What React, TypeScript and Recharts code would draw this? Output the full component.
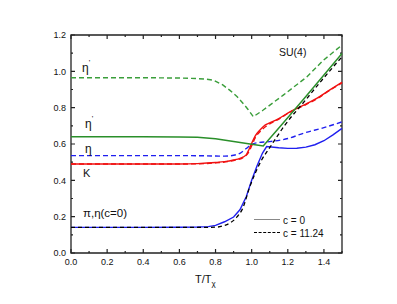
import React from "react"
import { LineChart, Line, XAxis, YAxis, ReferenceArea } from "recharts"

type Pt = { x: number; y: number }

const xTicks = [0, 0.1, 0.2, 0.3, 0.4, 0.5, 0.6, 0.7, 0.8, 0.9, 1.0, 1.1, 1.2, 1.3, 1.4, 1.5]
const yTicks = [0, 0.1, 0.2, 0.3, 0.4, 0.5, 0.6, 0.7, 0.8, 0.9, 1.0, 1.1, 1.2]
const xLabelled = [0, 0.2, 0.4, 0.6, 0.8, 1.0, 1.2, 1.4]
const yLabelled = [0, 0.2, 0.4, 0.6, 0.8, 1.0, 1.2]

// c = 11.24 (dashed)
const etaPrimeDashedX = [0, 0.2, 0.4, 0.6, 0.7, 0.75, 0.79, 0.84, 0.88, 0.92, 0.96, 0.98, 1.009, 1.064, 1.175, 1.305, 1.397, 1.5]
const etaPrimeDashedY = [0.965, 0.965, 0.965, 0.963, 0.96, 0.957, 0.951, 0.925, 0.895, 0.86, 0.815, 0.79, 0.75, 0.787, 0.869, 0.969, 1.061, 1.145]

// c = 0 (solid)
const etaPrimeSolidX = [0, 0.2, 0.4, 0.6, 0.7, 0.8, 0.9, 1.0, 1.064, 1.166, 1.3, 1.4, 1.5]
const etaPrimeSolidY = [0.64, 0.64, 0.64, 0.639, 0.637, 0.629, 0.614, 0.598, 0.589, 0.706, 0.862, 0.98, 1.098]

const etaDashedX = [0, 0.2, 0.4, 0.6, 0.8, 0.85, 0.9, 0.935, 0.97, 1.0, 1.03, 1.1, 1.2, 1.286, 1.4, 1.5]
const etaDashedY = [0.536, 0.536, 0.536, 0.536, 0.534, 0.533, 0.538, 0.549, 0.575, 0.598, 0.607, 0.613, 0.63, 0.659, 0.69, 0.722]

const kaonSolidX = [0, 0.2, 0.4, 0.6, 0.7, 0.8, 0.85, 0.9, 0.935, 0.97, 0.985, 1.0, 1.02, 1.046, 1.074, 1.1, 1.15, 1.212, 1.3, 1.36, 1.42, 1.5]
const kaonSolidY = [0.49, 0.49, 0.49, 0.49, 0.492, 0.498, 0.503, 0.512, 0.521, 0.54, 0.57, 0.604, 0.645, 0.677, 0.704, 0.716, 0.74, 0.777, 0.82, 0.851, 0.89, 0.94]

const kaonDashedX = [0, 0.2, 0.4, 0.6, 0.7, 0.8, 0.85, 0.9, 0.95, 0.98, 1.0, 1.02, 1.05, 1.08, 1.1, 1.15, 1.212, 1.3, 1.36, 1.42, 1.5]
const kaonDashedY = [0.49, 0.49, 0.49, 0.49, 0.491, 0.496, 0.501, 0.509, 0.524, 0.55, 0.59, 0.635, 0.672, 0.698, 0.711, 0.737, 0.775, 0.817, 0.848, 0.888, 0.937]

const pionSolidX = [0, 0.2, 0.4, 0.6, 0.7, 0.76, 0.8, 0.85, 0.9, 0.935, 0.97, 1.0, 1.03, 1.06, 1.083, 1.15, 1.2, 1.25, 1.3, 1.35, 1.4, 1.45, 1.5]
const pionSolidY = [0.141, 0.141, 0.141, 0.142, 0.143, 0.145, 0.152, 0.172, 0.198, 0.238, 0.31, 0.4, 0.48, 0.55, 0.586, 0.579, 0.576, 0.577, 0.583, 0.596, 0.618, 0.65, 0.686]

const pionDashedX = [0, 0.2, 0.4, 0.6, 0.7, 0.8, 0.85, 0.88, 0.92, 0.95, 0.99, 1.02, 1.055, 1.1, 1.184, 1.3, 1.4, 1.5]
const pionDashedY = [0.141, 0.141, 0.141, 0.141, 0.141, 0.142, 0.152, 0.165, 0.2, 0.245, 0.366, 0.44, 0.512, 0.58, 0.704, 0.844, 0.965, 1.08]

const pts = (xs: number[], ys: number[]): Pt[] => xs.map((x, i) => ({ x, y: ys[i] }))

const FONT = "'Liberation Sans', Arial, sans-serif"
const AXIS = "#222"
const GREEN = "#2a8f2a"
const GREEN_D = "#3a9e3a"
const BLUE = "#1f1fef"
const RED = "#f01010"
const M = 6 // tickMargin, used to find the axis line back from the label anchor
const PLOT_W = 271
const PLOT_H = 218

const isLabelled = (list: number[], v: number) => list.some((t) => Math.abs(t - v) < 1e-6)

// inward ticks on the bottom and top frame edges
function BottomTick(props: any) {
  const { x, y, payload } = props
  const v = payload.value as number
  const major = isLabelled(xLabelled, v)
  const len = major ? 4 : 2
  const ay = y - M
  const topY = ay - PLOT_H
  return (
    <g>
      <path d={`M${x},${ay}L${x},${ay - len}M${x},${topY}L${x},${topY + len}`} stroke={AXIS} strokeWidth={1.2} fill="none" />
      {major && (
        <text x={x} y={ay + 12} textAnchor="middle" fontSize={9} fontFamily={FONT} fill="#111">{v.toFixed(1)}</text>
      )}
    </g>
  )
}

// inward ticks on the left and right frame edges
function LeftTick(props: any) {
  const { x, y, payload } = props
  const v = payload.value as number
  const major = isLabelled(yLabelled, v)
  const len = major ? 4 : 2
  const ax = x + M
  const rightX = ax + PLOT_W
  return (
    <g>
      <path d={`M${ax},${y}L${ax + len},${y}M${rightX},${y}L${rightX - len},${y}`} stroke={AXIS} strokeWidth={1.2} fill="none" />
      {major && (
        <text x={ax - 5} y={y + 3.2} textAnchor="end" fontSize={9} fontFamily={FONT} fill="#111">{v.toFixed(1)}</text>
      )}
    </g>
  )
}

// plain html label, top given from the wanted baseline
function Label({ x, base, size, children }: { x: number; base: number; size: number; children: React.ReactNode }) {
  return (
    <div style={{ position: "absolute", left: x, top: base - 0.85 * size, fontSize: size, lineHeight: 1,
      fontFamily: FONT, color: "#111", whiteSpace: "nowrap" }}>
      {children}
    </div>
  )
}

const prime = <span style={{ position: "relative", top: -7, fontSize: 8 }}>'</span>

export default function App() {
  return (
    <div style={{ position: "absolute", left: 0, top: 0, width: 397, height: 304 }}>
      {/* frame, ticks and one series */}
      <div style={{ position: "absolute", left: 0, top: 0 }}>
        <LineChart width={397} height={304} margin={{ top: 35, right: 55, bottom: 31, left: 0 }}>
          <XAxis xAxisId="x" type="number" dataKey="x" domain={[0, 1.5]} ticks={xTicks} height={20}
            tick={<BottomTick />} axisLine={false} tickLine={false} tickSize={0} tickMargin={M} interval={0} />
          <YAxis yAxisId="y" type="number" domain={[0, 1.2]} ticks={yTicks} width={71}
            tick={<LeftTick />} axisLine={false} tickLine={false} tickSize={0} tickMargin={M} interval={0} />
          <ReferenceArea xAxisId="x" yAxisId="y" x1={0} x2={1.5} y1={0} y2={1.2}
            fill="none" fillOpacity={0} stroke={AXIS} strokeWidth={1.3} strokeOpacity={1} />
          <Line xAxisId="x" yAxisId="y" data={pts(etaPrimeDashedX, etaPrimeDashedY)} dataKey="y" type="linear"
            stroke={GREEN_D} strokeWidth={1.4} strokeDasharray="5 3" dot={false} isAnimationActive={false} />
        </LineChart>
      </div>

      {/* remaining series, same plot box */}
      <div style={{ position: "absolute", left: 0, top: 0 }}>
        <LineChart width={397} height={304} margin={{ top: 35, right: 55, bottom: 51, left: 71 }}>
          <XAxis xAxisId="x" type="number" dataKey="x" domain={[0, 1.5]} hide />
          <YAxis yAxisId="y" type="number" domain={[0, 1.2]} hide />
          <Line xAxisId="x" yAxisId="y" data={pts(etaDashedX, etaDashedY)} dataKey="y" type="monotone"
            stroke={BLUE} strokeWidth={1.4} strokeDasharray="5 3" dot={false} isAnimationActive={false} />
          <Line xAxisId="x" yAxisId="y" data={pts(kaonDashedX, kaonDashedY)} dataKey="y" type="monotone"
            stroke={RED} strokeWidth={1.4} strokeDasharray="5 3" dot={false} isAnimationActive={false} />
          <Line xAxisId="x" yAxisId="y" data={pts(kaonSolidX, kaonSolidY)} dataKey="y" type="monotone"
            stroke={RED} strokeWidth={1.4} dot={false} isAnimationActive={false} />
          <Line xAxisId="x" yAxisId="y" data={pts(pionSolidX, pionSolidY)} dataKey="y" type="linear"
            stroke={BLUE} strokeWidth={1.4} dot={false} isAnimationActive={false} />
          <Line xAxisId="x" yAxisId="y" data={pts(pionDashedX, pionDashedY)} dataKey="y" type="monotone"
            stroke="#000" strokeWidth={1.3} strokeDasharray="4 3" dot={false} isAnimationActive={false} />
          <Line xAxisId="x" yAxisId="y" data={pts(etaPrimeSolidX, etaPrimeSolidY)} dataKey="y" type="linear"
            stroke={GREEN} strokeWidth={1.5} dot={false} isAnimationActive={false} />
        </LineChart>
      </div>

      {/* annotations and legend as html */}
      <Label x={82} base={72} size={12}>η{prime}</Label>
      <Label x={85} base={128} size={12}>η{prime}</Label>
      <Label x={85} base={153} size={12}>η</Label>
      <Label x={83} base={177} size={11}>K</Label>
      <Label x={83} base={218} size={11.5}>π,η(c=0)</Label>
      <Label x={279} base={56} size={10.5}>SU(4)</Label>
      <Label x={195} base={283} size={11}>
        T/T<span style={{ position: "relative", top: 3, fontSize: 8 }}>χ</span>
      </Label>

      <div style={{ position: "absolute", left: 254, top: 219, width: 26, height: 0, borderTop: "1.5px solid #888" }} />
      <Label x={283} base={224} size={10}>c = 0</Label>
      <div style={{ position: "absolute", left: 254, top: 232, width: 26, height: 0, borderTop: "1.3px dashed #000" }} />
      <Label x={283} base={237} size={10}>c = 11.24</Label>
    </div>
  )
}
